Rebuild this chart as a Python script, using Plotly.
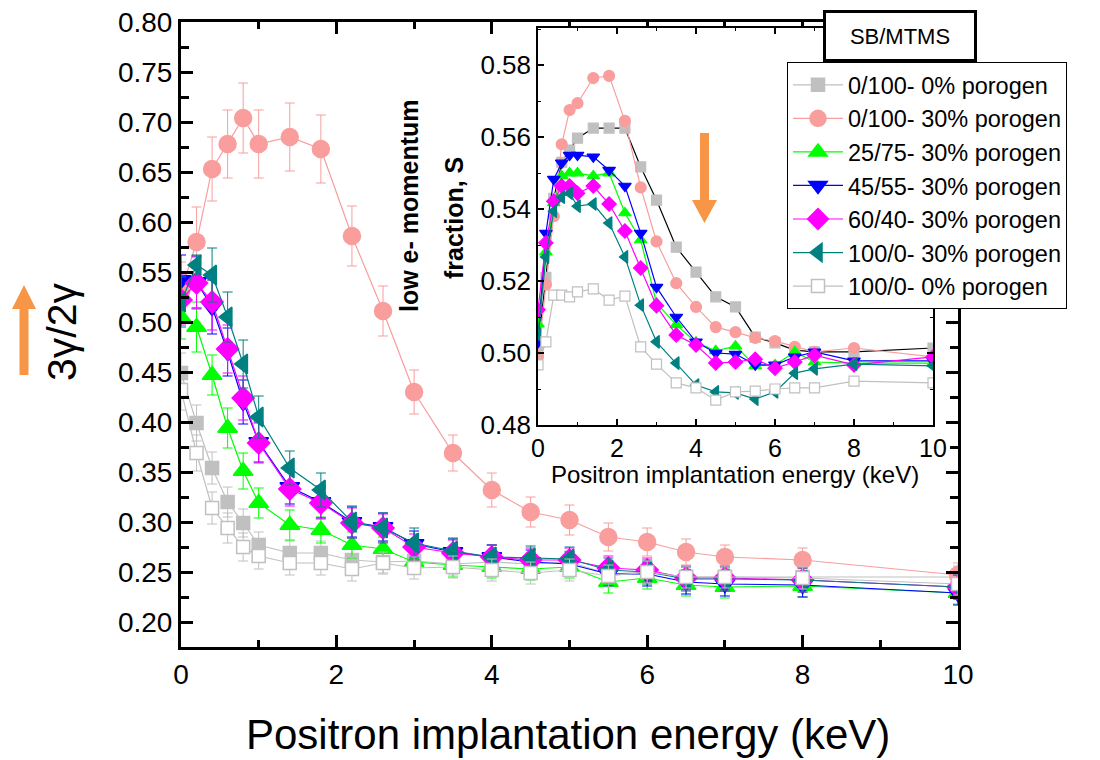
import plotly.graph_objects as go

# ---------------- data ----------------
energy = [0, 0.2, 0.4, 0.6, 0.8, 1.0, 1.4, 1.8, 2.2, 2.6, 3.0, 3.5, 4.0, 4.5, 5.0, 5.5, 6.0, 6.5, 7.0, 8.0, 10.0]

series_names = ["0/100- 0% porogen", "0/100- 30% porogen", "25/75- 30% porogen",
                "45/55- 30% porogen", "60/40- 30% porogen", "100/0- 30% porogen",
                "100/0- 0% porogen"]

# main plot: 3gamma/2gamma ratio
r_0_100_0 = [0.449, 0.399, 0.354, 0.320, 0.299, 0.277, 0.269, 0.269, 0.262, 0.260, 0.261, 0.258, 0.260, 0.258, 0.260, 0.248, 0.250, 0.245, 0.245, 0.245, 0.245]
r_0_100_30 = [0.530, 0.580, 0.653, 0.678, 0.704, 0.678, 0.685, 0.673, 0.586, 0.511, 0.430, 0.369, 0.332, 0.310, 0.302, 0.285, 0.280, 0.270, 0.265, 0.262, 0.247]
r_25_75_30 = [0.505, 0.495, 0.447, 0.394, 0.351, 0.319, 0.297, 0.292, 0.277, 0.273, 0.260, 0.257, 0.255, 0.253, 0.255, 0.240, 0.244, 0.237, 0.235, 0.236, 0.229]
r_45_55_30 = [0.542, 0.540, 0.515, 0.470, 0.420, 0.380, 0.335, 0.320, 0.300, 0.295, 0.278, 0.270, 0.265, 0.260, 0.258, 0.248, 0.248, 0.240, 0.238, 0.237, 0.229]
r_60_40_30 = [0.522, 0.539, 0.520, 0.473, 0.424, 0.379, 0.333, 0.319, 0.299, 0.294, 0.275, 0.269, 0.265, 0.262, 0.262, 0.254, 0.252, 0.244, 0.244, 0.242, 0.235]
r_100_0_30 = [0.520, 0.557, 0.547, 0.505, 0.458, 0.405, 0.354, 0.332, 0.300, 0.294, 0.279, 0.271, 0.265, 0.264, 0.263, 0.252, 0.250, 0.243, 0.243, 0.242, 0.235]
r_100_0_0 = [0.432, 0.369, 0.314, 0.294, 0.275, 0.266, 0.259, 0.259, 0.253, 0.259, 0.254, 0.255, 0.252, 0.249, 0.252, 0.246, 0.250, 0.245, 0.245, 0.244, 0.238]

e_0_100_0 = [0.02, 0.018, 0.016, 0.015, 0.014, 0.013, 0.012, 0.012, 0.012, 0.011, 0.011, 0.011, 0.011, 0.011, 0.011, 0.011, 0.011, 0.011, 0.011, 0.011, 0.011]
e_0_100_30 = [0.03, 0.035, 0.032, 0.034, 0.035, 0.034, 0.034, 0.034, 0.030, 0.025, 0.022, 0.018, 0.017, 0.015, 0.015, 0.014, 0.014, 0.013, 0.012, 0.012, 0.012]
e_25_75_30 = [0.022, 0.025, 0.020, 0.020, 0.018, 0.015, 0.015, 0.013, 0.013, 0.012, 0.012, 0.012, 0.011, 0.011, 0.011, 0.011, 0.011, 0.011, 0.011, 0.011, 0.011]
e_45_55_30 = [0.025, 0.026, 0.027, 0.024, 0.022, 0.020, 0.017, 0.016, 0.015, 0.014, 0.013, 0.013, 0.012, 0.012, 0.012, 0.012, 0.012, 0.012, 0.012, 0.012, 0.012]
e_60_40_30 = [0.025, 0.026, 0.028, 0.024, 0.022, 0.020, 0.017, 0.016, 0.015, 0.014, 0.013, 0.013, 0.012, 0.012, 0.012, 0.012, 0.012, 0.012, 0.012, 0.012, 0.012]
e_100_0_30 = [0.025, 0.010, 0.027, 0.025, 0.024, 0.021, 0.017, 0.017, 0.016, 0.015, 0.015, 0.013, 0.012, 0.012, 0.012, 0.012, 0.012, 0.012, 0.012, 0.012, 0.012]
e_100_0_0 = [0.02, 0.018, 0.016, 0.015, 0.014, 0.013, 0.012, 0.012, 0.012, 0.011, 0.011, 0.011, 0.011, 0.011, 0.011, 0.011, 0.011, 0.011, 0.011, 0.011, 0.011]

# inset: low e- momentum fraction S
s_0_100_0 = [0.502, 0.521, 0.543, 0.553, 0.5564, 0.5597, 0.5625, 0.5625, 0.5625, 0.5517, 0.5425, 0.5294, 0.5225, 0.5156, 0.5128, 0.5044, 0.5028, 0.5008, 0.5003, 0.5003, 0.5014]
s_0_100_30 = [0.499, 0.519, 0.538, 0.558, 0.5675, 0.5694, 0.5764, 0.577, 0.5645, 0.546, 0.531, 0.5194, 0.5128, 0.5072, 0.5058, 0.5042, 0.5033, 0.5017, 0.5003, 0.5014, 0.4989]
s_25_75_30 = [0.508, 0.528, 0.5417, 0.5492, 0.55, 0.55, 0.5492, 0.55, 0.5389, 0.5314, 0.5139, 0.5078, 0.503, 0.5006, 0.5019, 0.4964, 0.4967, 0.5003, 0.4975, 0.4972, 0.4972]
s_45_55_30 = [0.503, 0.5333, 0.5483, 0.5528, 0.555, 0.555, 0.5545, 0.5508, 0.5464, 0.5333, 0.5183, 0.51, 0.5031, 0.5, 0.4997, 0.4967, 0.4967, 0.4989, 0.5003, 0.4978, 0.4978]
s_60_40_30 = [0.512, 0.5306, 0.5422, 0.5464, 0.5464, 0.5444, 0.5464, 0.5414, 0.5339, 0.5236, 0.5131, 0.505, 0.5022, 0.4972, 0.4975, 0.4983, 0.4958, 0.4975, 0.4994, 0.4967, 0.4989]
s_100_0_30 = [0.505, 0.5267, 0.5394, 0.5433, 0.5444, 0.5408, 0.5414, 0.5361, 0.5267, 0.5133, 0.5031, 0.4972, 0.4911, 0.4892, 0.4889, 0.4872, 0.4892, 0.4944, 0.4956, 0.4969, 0.4964]
s_100_0_0 = [0.4967, 0.5031, 0.5161, 0.5161, 0.5156, 0.517, 0.5178, 0.5147, 0.5158, 0.5017, 0.4969, 0.4917, 0.4903, 0.4869, 0.4892, 0.4894, 0.49, 0.4903, 0.4903, 0.4922, 0.4917]

main_ticks_y = [0.20, 0.25, 0.30, 0.35, 0.40, 0.45, 0.50, 0.55, 0.60, 0.65, 0.70, 0.75, 0.80]
inset_ticks_y = [0.48, 0.50, 0.52, 0.54, 0.56, 0.58]

# ---------------- styles ----------------
W, H = 1100, 760
FONT = "Liberation Sans, Arial, sans-serif"

def px(x):
    return x / W

def py(y):
    return 1 - y / H

styles = [
    # (line colour, marker colour, marker outline, symbol, main size, inset line colour)
    ("#c0c0c0", "#c0c0c0", "#c0c0c0", "square", 13, "#000000"),
    ("#f99d9d", "#f99d9d", "#f99d9d", "circle", 17, "#f99d9d"),
    ("#00ff00", "#00ff00", "#00ff00", "triangle-up", 17, "#00ff00"),
    ("#0000ff", "#0000ff", "#0000ff", "triangle-down", 17, "#0000ff"),
    ("#ff00ff", "#ff00ff", "#ff00ff", "diamond", 17, "#ff00ff"),
    ("#008080", "#008080", "#008080", "triangle-left", 17, "#008080"),
    ("#c0c0c0", "#ffffff", "#c0c0c0", "square", 13, "#c0c0c0"),
]

main_vals = [r_0_100_0, r_0_100_30, r_25_75_30, r_45_55_30, r_60_40_30, r_100_0_30, r_100_0_0]
main_errs = [e_0_100_0, e_0_100_30, e_25_75_30, e_45_55_30, e_60_40_30, e_100_0_30, e_100_0_0]
inset_vals = [s_0_100_0, s_0_100_30, s_25_75_30, s_45_55_30, s_60_40_30, s_100_0_30, s_100_0_0]

fig = go.Figure()

for name, vals, errs, st in zip(series_names, main_vals, main_errs, styles):
    lc, mc, oc, sym, size, _ = st
    fig.add_trace(go.Scatter(
        x=energy, y=vals, name=name, mode="lines+markers",
        line=dict(color=lc, width=1.2),
        marker=dict(symbol=sym, size=size, color=mc, line=dict(color=oc, width=1.5)),
        error_y=dict(type="data", array=errs, visible=True, color=lc, thickness=1, width=5),
        xaxis="x", yaxis="y",
    ))

for name, vals, st in zip(series_names, inset_vals, styles):
    lc, mc, oc, sym, size, ilc = st
    isize = 11 if sym != "square" else 10
    fig.add_trace(go.Scatter(
        x=energy, y=vals, name=name, mode="lines+markers", showlegend=False,
        line=dict(color=ilc, width=1.2),
        marker=dict(symbol=sym, size=isize, color=mc, line=dict(color=oc, width=1.2)),
        xaxis="x2", yaxis="y2",
    ))

axis_common = dict(showgrid=False, zeroline=False, showline=True, linecolor="black",
                   mirror="ticks", ticks="inside", tickcolor="black", automargin=False)

fig.update_layout(
    width=W, height=H,
    margin=dict(l=0, r=0, t=0, b=0, autoexpand=False),
    paper_bgcolor="white", plot_bgcolor="white",
    font=dict(family=FONT, color="black"),
    xaxis=dict(domain=[px(181), px(958)], range=[0, 10], tickvals=[0, 2, 4, 6, 8, 10],
               linewidth=3, tickwidth=3, ticklen=12,
               minor=dict(dtick=1, ticks="inside", ticklen=7, tickwidth=3, tickcolor="black"),
               tickfont=dict(size=28, family=FONT), anchor="y", **axis_common),
    yaxis=dict(domain=[py(647), py(22)], range=[0.175, 0.80], tickvals=main_ticks_y,
               tickformat=".2f", linewidth=3, tickwidth=3, ticklen=12,
               minor=dict(dtick=0.025, tick0=0.2, ticks="inside", ticklen=8, tickwidth=3, tickcolor="black"),
               tickfont=dict(size=28, family=FONT), anchor="x", **axis_common),
    xaxis2=dict(domain=[px(538), px(933)], range=[0, 10], tickvals=[0, 2, 4, 6, 8, 10],
                linewidth=1.5, tickwidth=1.5, ticklen=6,
                minor=dict(dtick=1, ticks="inside", ticklen=3, tickwidth=1.2, tickcolor="black"),
                tickfont=dict(size=25, family=FONT), anchor="y2", **axis_common),
    yaxis2=dict(domain=[py(425), py(28)], range=[0.48, 0.5903], tickvals=inset_ticks_y,
                tickformat=".2f", linewidth=1.5, tickwidth=1.5, ticklen=6,
                minor=dict(dtick=0.01, tick0=0.48, ticks="inside", ticklen=3, tickwidth=1.2, tickcolor="black"),
                tickfont=dict(size=26, family=FONT), anchor="x2", **axis_common),
    legend=dict(x=px(787), y=py(62), xanchor="left", yanchor="top",
                bgcolor="white", bordercolor="black", borderwidth=1,
                font=dict(size=23.5, family=FONT), itemwidth=50, tracegroupgap=0),
    showlegend=True,
)

annotations = [
    dict(text="Positron implantation energy (keV)", x=px(568), y=py(734), xref="paper", yref="paper",
         showarrow=False, font=dict(size=42, family=FONT), xanchor="center", yanchor="middle"),
    dict(text="3γ/2γ", x=px(62), y=py(332), xref="paper", yref="paper", textangle=-90,
         showarrow=False, font=dict(size=41, family=FONT), xanchor="center", yanchor="middle"),
    dict(text="Positron implantation energy (keV)", x=px(735), y=py(474), xref="paper", yref="paper",
         showarrow=False, font=dict(size=24, family=FONT), xanchor="center", yanchor="middle"),
    dict(text="<b>low e- momentum</b>", x=px(409), y=py(206), xref="paper", yref="paper", textangle=-90,
         showarrow=False, font=dict(size=25, family=FONT), xanchor="center", yanchor="middle"),
    dict(text="<b>fraction, S</b>", x=px(454), y=py(218), xref="paper", yref="paper", textangle=-90,
         showarrow=False, font=dict(size=25, family=FONT), xanchor="center", yanchor="middle"),
    dict(text="SB/MTMS", x=px(900), y=py(36), xref="paper", yref="paper",
         showarrow=False, font=dict(size=22, family=FONT), xanchor="center", yanchor="middle",
         bgcolor="white", bordercolor="black", borderwidth=3, borderpad=0, width=148, height=46),
]
fig.update_layout(annotations=annotations)

ORANGE = "#f79646"

def arrow_path(xc, y_tail, y_base, y_tip, shaft_half, head_half):
    pts = [(xc - shaft_half, y_tail), (xc - shaft_half, y_base), (xc - head_half, y_base),
           (xc, y_tip), (xc + head_half, y_base), (xc + shaft_half, y_base), (xc + shaft_half, y_tail)]
    return "M " + " L ".join(f"{px(a):.5f},{py(b):.5f}" for a, b in pts) + " Z"

fig.add_shape(type="path", xref="paper", yref="paper",
              path=arrow_path(24, 375, 309, 285, 4.5, 12), fillcolor=ORANGE, line=dict(width=0))
fig.add_shape(type="path", xref="paper", yref="paper",
              path=arrow_path(704.5, 133, 200, 223, 4.5, 12.5), fillcolor=ORANGE, line=dict(width=0))

fig.write_html("out.html")
